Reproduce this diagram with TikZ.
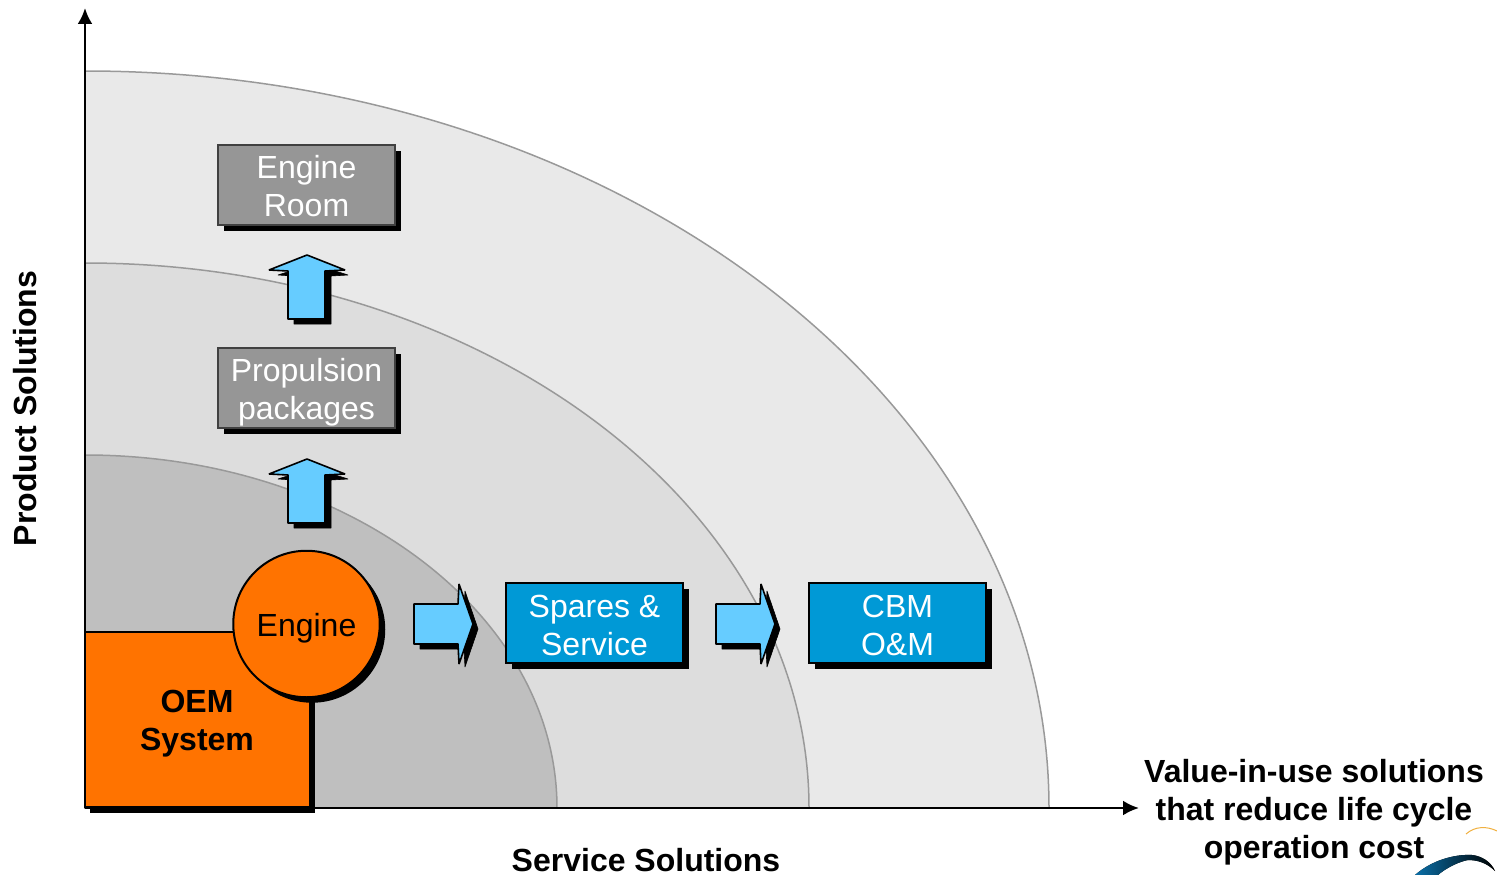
\documentclass[tikz,border=0pt]{standalone}
\usepackage{fontspec}
\setmainfont{Liberation Sans}
\usetikzlibrary{shadows,arrows.meta}
\definecolor{ringout}{HTML}{E9E9E9}
\definecolor{ringmid}{HTML}{DDDDDD}
\definecolor{ringin}{HTML}{BFBFBF}
\definecolor{ringline}{HTML}{999999}
\definecolor{boxgray}{HTML}{969696}
\definecolor{boxblue}{HTML}{0099D6}
\definecolor{arrowblue}{HTML}{66CCFF}
\definecolor{oemorange}{HTML}{FF7300}
\definecolor{logoblue}{HTML}{0A6FA8}
\definecolor{logoline}{HTML}{F0B040}
\newcommand{\boxtext}[2]{\raisebox{#1}[0pt][0pt]{\parbox{170pt}{\centering #2}}}

\begin{document}
\begin{tikzpicture}
  [x=1pt,y=-1pt,
   every node/.style={font=\fontsize{32}{38}\selectfont,align=center,inner sep=0pt,outer sep=0pt},
   ring/.style={fill=#1,draw=ringline,line width=1.5pt},
   axis/.style={line width=2.6pt,-{Latex[length=16pt,width=15pt]}},
   shadowed/.style={draw=black,line width=2pt,copy shadow={shadow xshift=5.5pt,shadow yshift=-5.5pt,fill=black,draw=none}},
   graybox/.style={shadowed,draw=black!75,fill=boxgray,text=white,minimum width=177pt,minimum height=80pt},
   bluebox/.style={shadowed,fill=boxblue,text=white,minimum width=177pt,minimum height=80pt},
   flow/.style={draw=black,line width=1.6pt,fill=arrowblue,line join=bevel},
   flowshadow/.style={fill=black,draw=black,line width=.6pt,line join=bevel},
   title/.style={font=\fontsize{32}{38}\selectfont\bfseries}]

  \useasboundingbox (0,0) rectangle (1497,875);

  \draw[ring=ringout] (85,808) -- (85,71) arc[start angle=90,end angle=0,x radius=964pt,y radius=737pt] -- cycle;
  \draw[ring=ringmid] (85,808) -- (85,263) arc[start angle=90,end angle=0,x radius=724pt,y radius=545pt] -- cycle;
  \draw[ring=ringin] (85,808) -- (85,455) arc[start angle=90,end angle=0,x radius=472pt,y radius=353pt] -- cycle;

  \coordinate (origin) at (85,808);
  \coordinate (ytip) at (85,8);
  \coordinate (xtip) at (1139,808);
  \draw[axis] (origin) -- (ytip);
  \draw[axis] (origin) -- (xtip);

  % up arrows
  \foreach \ay in {0,204} {
    \draw[flowshadow,yshift=-\ay pt,xshift=6pt,yshift=-5pt] (307,259) -- (342,270) -- (325,271) -- (325,319) -- (288,319) -- (288,271) -- (272,270) -- cycle;
    \draw[flow,yshift=-\ay pt] (307,255) -- (345,270) -- (325,271) -- (325,319) -- (288,319) -- (288,271) -- (269,270) -- cycle;
  }

  % right arrows
  \foreach \ax in {0,302} {
    \draw[flowshadow,xshift=\ax pt,xshift=6pt,yshift=-5pt] (414,604) -- (458,604) -- (459,586) -- (472,624) -- (459,662) -- (458,644) -- (414,644) -- cycle;
    \draw[flow,xshift=\ax pt] (414,604) -- (458,604) -- (459,584) -- (473,624) -- (459,664) -- (458,644) -- (414,644) -- cycle;
  }

  \node[graybox] (room) at (306.5,185) {\boxtext{-7pt}{Engine\\Room}};
  \node[graybox] (prop) at (306.5,388) {\boxtext{-10pt}{Propulsion\\packages}};
  \node[bluebox] (spares) at (594.5,623) {\boxtext{-9pt}{Spares \&\\Service}};
  \node[bluebox] (cbm) at (897.5,623) {\boxtext{-9pt}{CBM\\O\&M}};

  \node[shadowed,fill=oemorange,minimum width=225pt,minimum height=175pt,font=\fontsize{32}{38}\selectfont\bfseries] (oem) at (197,719.5) {\boxtext{-10pt}{OEM\\System}};
  \node[shadowed,circle,fill=oemorange,minimum size=146.5pt] (engine) at (306.5,624) {\raisebox{-12pt}[0pt][0pt]{Engine}};

  \node[title,rotate=90] (ylabel) at (25,408.5) {Product Solutions};
  \node[title] (xlabel) at (646,860.5) {Service Solutions};
  \node[title] (value) at (1314,812) {Value-in-use solutions\\that reduce life cycle\\operation cost};

  % logo in the corner
  \draw[logoline,line width=1pt] (1466,834) .. controls (1475,826) and (1487,826) .. (1497,831);
  \fill[left color=logoblue,right color=black] (1415,875) .. controls (1432,860) and (1455,854) .. (1472,855) .. controls (1482,856) and (1491,862) .. (1495,871) .. controls (1487,863) and (1478,860) .. (1468,860) .. controls (1458,862) and (1446,868) .. (1438,875) -- cycle;

\end{tikzpicture}
\end{document}
